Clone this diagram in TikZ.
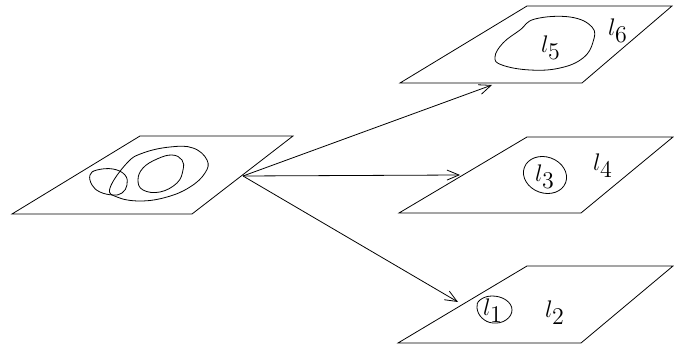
\documentclass[tikz,border=0pt]{standalone}
\usepackage{amsmath}
\usetikzlibrary{arrows.meta}

\begin{document}
\begin{tikzpicture}[x=0.5pt, y=-0.5pt, thin,
  >={Straight Barb[length=6pt,width=5pt]},
  plane/.style={draw, line join=miter},
  blob/.style={draw, smooth cycle, tension=0.7},
  lbl/.style={inner sep=0pt, font=\fontsize{12}{14}\selectfont}]
\useasboundingbox (0,0) rectangle (674,347);

% Planes
\draw[plane] (12,214) -- (192,214) -- (293,136) -- (140,136) -- cycle;
\draw[plane] (400,83) -- (582,83) -- (672,6) -- (527,6) -- cycle;
\draw[plane] (399,213) -- (581,213) -- (673,137) -- (527,137) -- cycle;
\draw[plane] (398,343) -- (581,343) -- (673,266) -- (527,266) -- cycle;

% Regions on the source plane
\draw plot[blob] coordinates {(110,188) (127,163) (143,153) (170,147) (193,148) (207,160)
  (205,173) (190,187) (167,197) (140,201) (117,197)};
\draw plot[blob] coordinates {(90,175) (97,170) (113,169) (125,175) (127,185) (122,193)
  (113,195) (100,192) (92,185)};
\draw plot[blob] coordinates {(138,180) (143,168) (157,159) (172,155) (182,160) (183,170)
  (177,183) (160,192) (143,190)};

% Regions on the target planes
\draw plot[blob] coordinates {(535,19) (570,17) (592,27) (593,42) (583,58) (560,68)
  (530,70) (502,65) (495,57) (503,43) (520,30)};
\draw[rotate around={-20:(545,175)}] (545,175) ellipse [x radius=22, y radius=18];
\draw plot[blob] coordinates {(480,300) (492,296) (506,300) (512,310) (506,320)
  (493,323) (482,318) (477,308)};

% Labels
\node[lbl] (l5) at (551,48) {$l_{\textstyle 5}$};
\node[lbl] (l6) at (618,31) {$l_{\textstyle 6}$};
\node[lbl] (l3) at (545,177) {$l_{\textstyle 3}$};
\node[lbl] (l4) at (603,166) {$l_{\textstyle 4}$};
\node[lbl] (l1) at (493,311) {$l_{\textstyle 1}$};
\node[lbl] (l2) at (555,313) {$l_{\textstyle 2}$};

% Arrows
\coordinate (src) at (243,176);
\coordinate (top) at (492,85);
\coordinate (mid) at (460,175);
\coordinate (bot) at (458,302);
\draw[->] (src) -- (top);
\draw[->] (src) -- (mid);
\draw[->] (src) -- (bot);
\end{tikzpicture}
\end{document}
